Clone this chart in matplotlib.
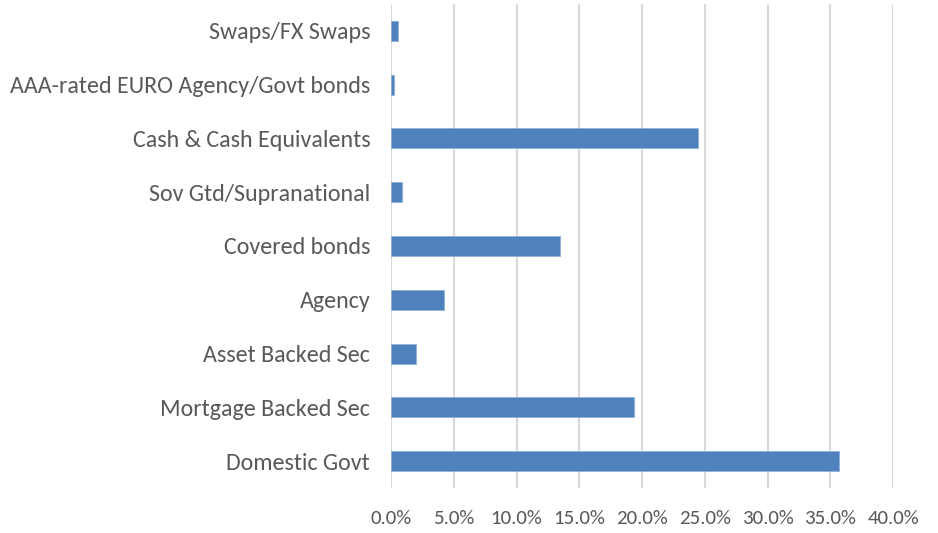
import matplotlib
matplotlib.use("Agg")
import matplotlib.pyplot as plt
from matplotlib.ticker import FuncFormatter, MultipleLocator
from matplotlib import font_manager

categories = ["Domestic Govt", "Mortgage Backed Sec", "Asset Backed Sec", "Agency",
              "Covered bonds", "Sov Gtd/Supranational", "Cash & Cash Equivalents",
              "AAA-rated EURO Agency/Govt bonds", "Swaps/FX Swaps"]
values = [35.7, 19.4, 2.0, 4.2, 13.5, 0.85, 24.5, 0.2, 0.55]

names = {f.name for f in font_manager.fontManager.ttflist}
fam = [n for n in ["Carlito", "Liberation Sans Narrow", "Liberation Sans"] if n in names]
plt.rcParams['font.family'] = fam + ['DejaVu Sans']
narrow = fam[0] in ("Carlito", "Liberation Sans Narrow")

fig = plt.figure(figsize=(9.38, 5.33), dpi=100)
ax = fig.add_axes([391/938, 1-488/533, (893-391)/938, (488-4)/533])

ax.barh(range(len(categories)), values, height=0.37, color="#4F81BD",
        edgecolor="#8EB0DA", linewidth=0.6, zorder=3)

ax.set_xlim(0, 40)
ax.set_ylim(-0.5, len(categories) - 0.5)
ax.xaxis.set_major_locator(MultipleLocator(5))
ax.xaxis.set_major_formatter(FuncFormatter(lambda v, p: f"{v:.1f}%"))
ax.set_yticks(range(len(categories)))
ax.set_yticklabels(categories)

ax.grid(axis="x", color="#D9D9D9", linewidth=1.5, zorder=0)
for s in ax.spines.values():
    s.set_visible(False)
ax.axvline(0, color="#D9D9D9", linewidth=1.5, zorder=1)

ax.tick_params(axis="both", length=0, colors="#595959")
ax.tick_params(axis="y", pad=15, labelsize=17.3 if narrow else 15.5)
ax.tick_params(axis="x", pad=16, labelsize=15 if narrow else 13.5)

fig.savefig("out.png", dpi=100)
